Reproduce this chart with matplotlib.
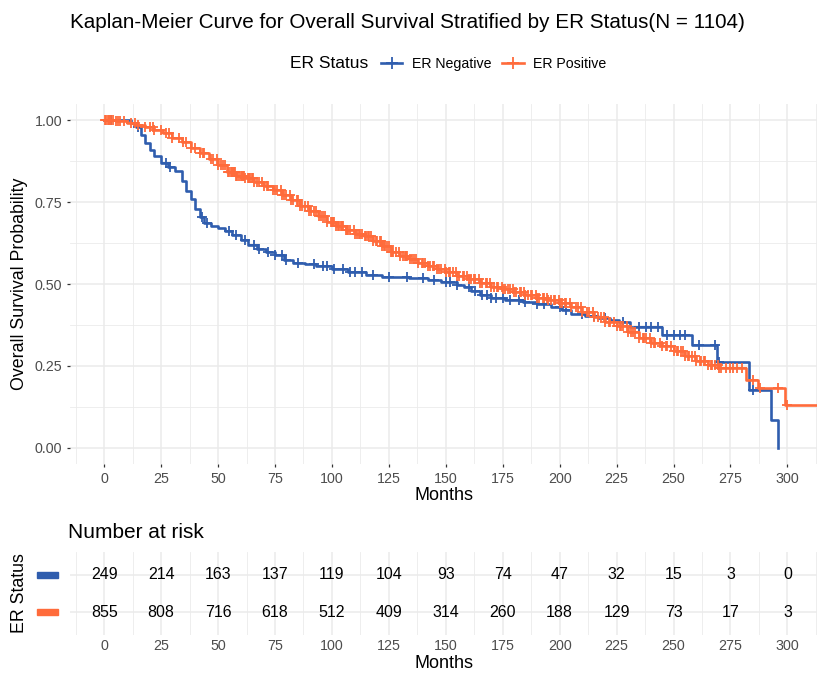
import numpy as np
import matplotlib.pyplot as plt
from matplotlib.lines import Line2D
from matplotlib.patches import Rectangle
from matplotlib.ticker import MultipleLocator

plt.rcParams['font.family'] = ['Liberation Sans', 'DejaVu Sans']

# Kaplan-Meier step knots (months, survival)
neg_time = [0, 10, 12, 14, 16, 18, 20, 22, 25, 28, 31, 34, 36, 38, 40, 42, 44, 47, 50,
            53, 56, 60, 63, 67, 71, 75, 79, 83, 88, 93, 100, 107, 115, 122, 134, 142,
            148, 155, 158, 161, 165, 170, 176, 184, 190, 196, 201, 205, 211, 217, 222,
            226, 231, 245, 258, 269, 283, 293, 296]
neg_surv = [1.0, 1.0, 0.99, 0.978, 0.955, 0.93, 0.91, 0.89, 0.87, 0.858, 0.845, 0.815,
            0.785, 0.76, 0.73, 0.705, 0.685, 0.678, 0.672, 0.663, 0.65, 0.635, 0.62,
            0.608, 0.598, 0.588, 0.572, 0.565, 0.56, 0.555, 0.545, 0.538, 0.528, 0.522,
            0.517, 0.512, 0.505, 0.497, 0.49, 0.48, 0.465, 0.458, 0.452, 0.446, 0.44,
            0.43, 0.42, 0.41, 0.402, 0.396, 0.39, 0.384, 0.37, 0.345, 0.314, 0.262,
            0.177, 0.085, 0.0]

pos_time = [0, 5, 10, 14, 18, 22, 26, 30, 34, 38, 42, 46, 50, 54, 58, 62, 66, 70, 74,
            78, 82, 86, 90, 94, 98, 102, 106, 110, 114, 118, 122, 126, 130, 134, 138,
            142, 146, 150, 155, 160, 165, 170, 175, 180, 185, 190, 195, 200, 205, 210,
            215, 220, 225, 230, 235, 240, 245, 250, 255, 260, 265, 270, 282, 287, 299, 313]
pos_surv = [1.0, 0.997, 0.992, 0.985, 0.978, 0.97, 0.96, 0.945, 0.932, 0.915, 0.898,
            0.88, 0.862, 0.842, 0.83, 0.822, 0.81, 0.8, 0.788, 0.772, 0.755, 0.738,
            0.722, 0.706, 0.69, 0.677, 0.664, 0.652, 0.645, 0.632, 0.615, 0.598, 0.585,
            0.575, 0.565, 0.555, 0.546, 0.537, 0.525, 0.515, 0.503, 0.492, 0.484, 0.475,
            0.466, 0.458, 0.45, 0.442, 0.43, 0.415, 0.4, 0.385, 0.372, 0.355, 0.335,
            0.32, 0.31, 0.295, 0.28, 0.265, 0.252, 0.245, 0.207, 0.183, 0.131, 0.131]

# censoring times
neg_cens = [3, 15, 27, 29, 43, 45, 55, 58, 62, 66, 68, 72, 75, 78, 80, 85, 92, 96, 98,
            101, 105, 108, 110, 113, 118, 125, 133, 140, 145, 150, 152, 155, 160, 163,
            166, 168, 170, 172, 175, 178, 182, 185, 190, 193, 200, 203, 210, 215, 220,
            228, 235, 238, 240, 243, 247, 250, 253, 255, 261, 268, 270, 285]
pos_cens = [1, 2, 3, 4, 5, 6, 7, 12, 15, 18, 20, 22, 25, 27, 30, 33, 36, 38, 40, 42, 44,
            47, 48, 50, 52, 53, 55, 56, 57, 58, 59, 60, 61, 62, 63, 64, 65, 66, 67, 68,
            70, 72, 74, 75, 76, 78, 79, 80, 82, 83, 85, 86, 87, 88, 90, 91, 92, 93, 95,
            96, 97, 98, 100, 101, 102, 103, 104, 105, 106, 107, 108, 110, 111, 112, 113,
            115, 116, 117, 118, 120, 121, 122, 123, 124, 125, 126, 127, 128, 130, 131,
            132, 133, 135, 136, 137, 138, 140, 141, 142, 143, 145, 146, 147, 148, 150,
            152, 153, 155, 156, 158, 160, 161, 163, 165, 166, 168, 170, 171, 173, 175,
            176, 178, 180, 181, 183, 185, 186, 188, 190, 191, 193, 195, 196, 198, 200,
            201, 203, 205, 207, 208, 210, 212, 213, 215, 217, 218, 220, 222, 224, 225,
            227, 228, 230, 232, 233, 235, 237, 238, 240, 242, 244, 245, 247, 249, 250,
            252, 254, 255, 257, 258, 260, 262, 264, 265, 267, 268, 270, 271, 273, 275,
            276, 278, 280, 285, 288, 296, 300,
            0.5, 1.5, 2.5, 8.5, 13.5, 21.5, 28.5, 34.5, 43.5, 49.5, 51.5, 54.5, 55.5,
            56.5, 57.5, 58.5, 60.5, 61.5, 63.5, 65.5, 69.5, 71.5, 77.5, 81.5, 84.5, 89.5,
            94.5, 99.5, 100.5, 102.5, 104.5, 106.5, 109.5, 112.5, 114.5, 116.5, 119.5,
            121.5, 123.5, 126.5, 129.5, 132.5, 134.5, 139.5, 144.5, 149.5, 151.5, 154.5,
            157.5, 159.5, 162.5, 164.5, 167.5, 169.5, 172.5, 174.5, 177.5, 179.5, 182.5,
            184.5, 187.5, 189.5, 192.5, 194.5, 197.5, 199.5, 202.5, 204.5, 209.5, 214.5,
            219.5, 221.5, 226.5, 229.5, 231.5, 236.5, 239.5, 241.5, 246.5, 251.5, 253.5,
            256.5, 259.5, 261.5, 263.5, 266.5, 269.5]

risk_times = [0, 25, 50, 75, 100, 125, 150, 175, 200, 225, 250, 275, 300]
neg_risk = [249, 214, 163, 137, 119, 104, 93, 74, 47, 32, 15, 3, 0]
pos_risk = [855, 808, 716, 618, 512, 409, 314, 260, 188, 129, 73, 17, 3]

labels = ['ER Negative', 'ER Positive']
colors = ['#2F5DAE', '#FF6B3B']

W, H = 817, 675
fig = plt.figure(figsize=(W / 100, H / 100), dpi=100)


def fx(px):
    return px / W


def fy(py):
    return 1 - py / H


def style_axis(ax):
    for s in ax.spines.values():
        s.set_visible(False)
    ax.set_xlim(-15, 313)
    ax.xaxis.set_major_locator(MultipleLocator(25))
    ax.xaxis.set_minor_locator(MultipleLocator(12.5))
    ax.grid(which='major', color='#EBEBEB', lw=1.1)
    ax.grid(which='minor', color='#EBEBEB', lw=0.6)
    ax.tick_params(which='major', length=2.5, width=0.9, color='#333333',
                   labelcolor='#4D4D4D', labelsize=10.3, pad=3)
    ax.tick_params(which='minor', length=0)
    ax.set_axisbelow(True)


ax = fig.add_axes([fx(70), fy(464.4), fx(747), 360.8 / H])
style_axis(ax)
ax.set_ylim(-0.05, 1.05)
ax.yaxis.set_major_locator(MultipleLocator(0.25))
ax.yaxis.set_minor_locator(MultipleLocator(0.125))
ax.yaxis.set_major_formatter(lambda v, p: f'{v:.2f}')

for t, s, c, col in [(neg_time, neg_surv, neg_cens, colors[0]),
                     (pos_time, pos_surv, pos_cens, colors[1])]:
    t = np.array(t)
    s = np.array(s)
    ax.step(t, s, where='post', color=col, lw=1.9)
    idx = np.searchsorted(t, np.array(c), side='right') - 1
    ax.plot(c, s[idx], ls='none', marker='+', ms=7.5, mew=1.3, color=col)

ax.set_xlabel('Months', fontsize=13, color='black', labelpad=1)
ax.set_ylabel('Overall Survival Probability', fontsize=12.8, color='black')
ax.yaxis.set_label_coords(-(70 - 28) / 747, 0.5)

fig.text(fx(70), fy(22), 'Kaplan-Meier Curve for Overall Survival Stratified by ER Status(N = 1104)',
         ha='left', va='center', fontsize=14.9)

# legend
fig.text(fx(290), fy(64), 'ER Status', ha='left', va='center', fontsize=12.5)
handles = [Line2D([], [], color=col, lw=1.9, marker='+', ms=9, mew=1.3) for col in colors]
fig.legend(handles, labels, loc='center left', bbox_to_anchor=(fx(381), fy(64)),
           ncol=2, frameon=False, fontsize=10.2, handlelength=1.5, handletextpad=0.7,
           columnspacing=0.75, borderaxespad=0, borderpad=0)

# number at risk table
rt = fig.add_axes([fx(70), fy(635), fx(747), 83 / H])
style_axis(rt)
rt.tick_params(which='major', length=0)
rt.set_ylim(0.4, 2.6)
rt.set_yticks([2, 1])
rt.set_yticklabels(['', ''])
rt.grid(which='major', axis='y', color='#EBEBEB', lw=1.1)
for x, n in zip(risk_times, neg_risk):
    rt.text(x, 2, str(n), ha='center', va='center', fontsize=11.5)
for x, n in zip(risk_times, pos_risk):
    rt.text(x, 1, str(n), ha='center', va='center', fontsize=11.5)
for yv, col in zip([2, 1], colors):
    rt.add_patch(Rectangle((-33 / 747, yv - 0.08), 21 / 747, 0.16, color=col,
                           transform=rt.get_yaxis_transform(), clip_on=False))
rt.set_xlabel('Months', fontsize=13, color='black', labelpad=1)
rt.set_ylabel('ER Status', fontsize=12.8, color='black')
rt.yaxis.set_label_coords(-(70 - 28) / 747, 0.5)
fig.text(fx(68), fy(533), 'Number at risk', ha='left', va='center', fontsize=15)

fig.savefig('out.png', dpi=100, facecolor='white')
